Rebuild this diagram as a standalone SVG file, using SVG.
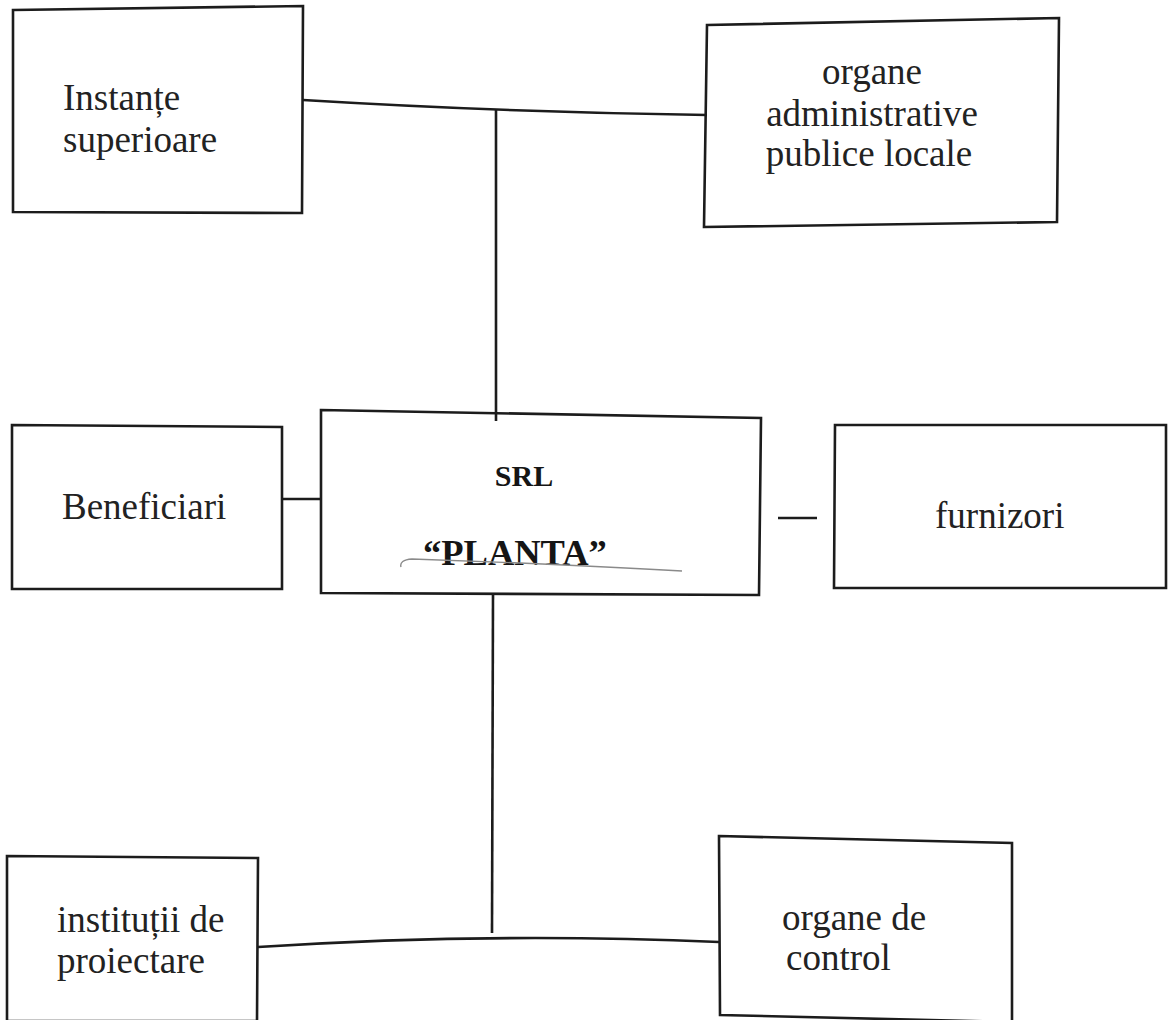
<svg xmlns="http://www.w3.org/2000/svg" width="1168" height="1020" viewBox="0 0 1168 1020">
<style>
.box{fill:none;stroke:#1c1c1c;stroke-width:2.6;stroke-linejoin:miter}
.con{fill:none;stroke:#1c1c1c;stroke-width:2.6}
.t{font-family:"Liberation Serif","Times New Roman",serif;font-size:37px;fill:#222}
.b{font-family:"Liberation Serif","Times New Roman",serif;font-weight:bold;fill:#151515}
</style>
<rect width="1168" height="1020" fill="#ffffff"/>
<g id="connectors">
<path class="con" d="M303,100 Q500,112 707,115"/>
<path class="con" d="M496,110 L496,421"/>
<path class="con" d="M282,499 L321,499"/>
<path class="con" d="M778,518 L817,518"/>
<path class="con" d="M493,594 L492,933"/>
<path class="con" d="M258,947 Q490,932 719,942"/>
</g>
<g id="instante-superioare">
<polygon class="box" points="13,10 303,6 302,213 13,212"/>
<text class="t" x="63" y="110">Instanțe</text>
<text class="t" x="63" y="152">superioare</text>
</g>
<g id="organe-administrative">
<polygon class="box" points="707,25 1059,18 1057,222 704,227"/>
<text class="t" x="872" y="84" text-anchor="middle">organe</text>
<text class="t" x="872" y="126" text-anchor="middle">administrative</text>
<text class="t" x="869" y="166" text-anchor="middle">publice locale</text>
</g>
<g id="beneficiari">
<polygon class="box" points="12,425 282,427 282,589 12,589"/>
<text class="t" x="62" y="519">Beneficiari</text>
</g>
<g id="srl-planta">
<polygon class="box" points="321,410 761,418 759,595 321,593"/>
<text class="b" x="524" y="486" font-size="30" text-anchor="middle">SRL</text>
<text class="b" x="423" y="565" font-size="36.5">“PLANTA”</text>
<path d="M401,567 Q399,560 412,559 L520,563 Q610,567 682,571" fill="none" stroke="#8a8a8a" stroke-width="1.4"/>
</g>
<g id="furnizori">
<polygon class="box" points="835,425 1166,425 1166,588 834,588"/>
<text class="t" x="935" y="528">furnizori</text>
</g>
<g id="institutii-de-proiectare">
<polygon class="box" points="7,856 258,858 257,1021 7,1021"/>
<text class="t" x="57" y="932">instituții de</text>
<text class="t" x="57" y="973">proiectare</text>
</g>
<g id="organe-de-control">
<polygon class="box" points="719,836 1012,843 1012,1022 720,1015"/>
<text class="t" x="782" y="930">organe de</text>
<text class="t" x="786" y="970">control</text>
</g>
</svg>
